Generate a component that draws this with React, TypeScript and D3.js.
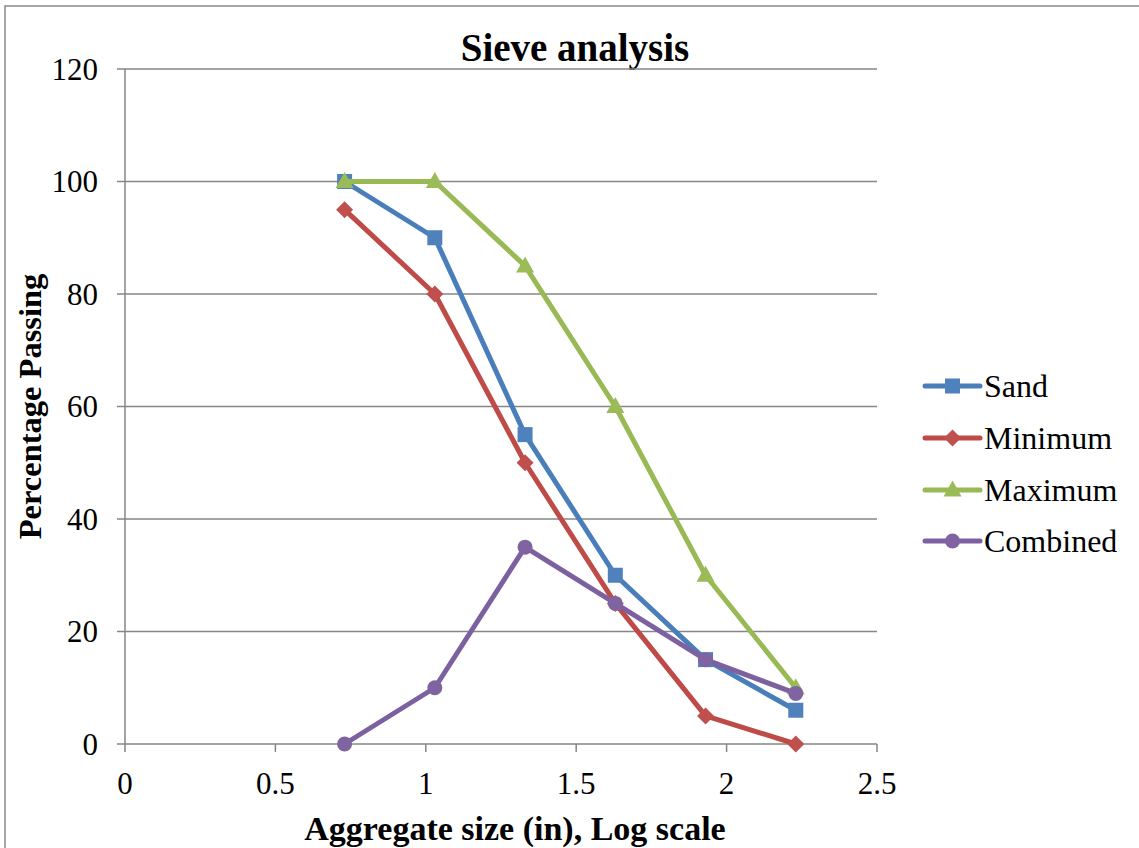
import React from "react";
import * as d3 from "d3";

const xValues = [0.73, 1.03, 1.33, 1.63, 1.93, 2.23];
const sand = [100, 90, 55, 30, 15, 6];
const minimum = [95, 80, 50, 25, 5, 0];
const maximum = [100, 100, 85, 60, 30, 10];
const combined = [0, 10, 35, 25, 15, 9];
const xTicks = [0, 0.5, 1, 1.5, 2, 2.5];
const yTicks = [0, 20, 40, 60, 80, 100, 120];

const seriesList = [
  { name: "Sand", values: sand, color: "#4A7EBB", fill: "#4F81BD", shape: "square" },
  { name: "Minimum", values: minimum, color: "#BE4B48", fill: "#C0504D", shape: "diamond" },
  { name: "Maximum", values: maximum, color: "#98B954", fill: "#9BBB59", shape: "triangle" },
  { name: "Combined", values: combined, color: "#7D60A0", fill: "#8064A2", shape: "circle" },
];

const W = 1139;
const H = 848;
const left = 125, right = 877, top = 69, bottom = 744;
const FONT = "'Liberation Serif', 'Times New Roman', serif";

function Marker({ shape, x, y, fill }: { shape: string; x: number; y: number; fill: string }) {
  if (shape === "square") return <rect x={x - 7.5} y={y - 7.5} width={15} height={15} fill={fill} />;
  if (shape === "diamond") return <path d={`M${x},${y - 8.5}L${x + 8.5},${y}L${x},${y + 8.5}L${x - 8.5},${y}Z`} fill={fill} />;
  if (shape === "triangle") return <path d={`M${x},${y - 9.5}L${x + 9},${y + 6.5}L${x - 9},${y + 6.5}Z`} fill={fill} />;
  return <circle cx={x} cy={y} r={7.5} fill={fill} />;
}

export default function App() {
  const x = d3.scaleLinear().domain([0, 2.5]).range([left, right]);
  const y = d3.scaleLinear().domain([0, 120]).range([bottom, top]);
  const line = d3.line<[number, number]>().x((d) => x(d[0])).y((d) => y(d[1]));
  const grid = "#868686";
  const legendX = 925;
  const legendY = [386, 438, 490, 541];

  return (
    <svg width={W} height={H} style={{ position: "absolute", left: 0, top: 0 }}>
      <rect x={0} y={0} width={W} height={H} fill="#fff" />
      <rect x={5} y={6} width={W + 20} height={H + 20} fill="none" stroke="#898989" strokeWidth={1.5} />
      <text x={575} y={61} textAnchor="middle" fontFamily={FONT} fontWeight="bold" fontSize={39}>Sieve analysis</text>
      {yTicks.map((t) => (
        <g key={"y" + t}>
          <line x1={117} x2={right} y1={y(t)} y2={y(t)} stroke={grid} strokeWidth={1.5} />
          <text x={98} y={y(t) + 10.5} textAnchor="end" fontFamily={FONT} fontSize={31}>{t}</text>
        </g>
      ))}
      <line x1={left} x2={left} y1={top} y2={bottom} stroke={grid} strokeWidth={1.5} />
      {xTicks.map((t) => (
        <g key={"x" + t}>
          <line x1={x(t)} x2={x(t)} y1={bottom} y2={bottom + 8} stroke={grid} strokeWidth={1.5} />
          <text x={x(t)} y={794} textAnchor="middle" fontFamily={FONT} fontSize={31}>{t}</text>
        </g>
      ))}
      <text x={515} y={840} textAnchor="middle" fontFamily={FONT} fontWeight="bold" fontSize={34}>Aggregate size (in), Log scale</text>
      <text transform={`translate(41,${(275 + 538) / 2}) rotate(-90)`} textAnchor="middle" fontFamily={FONT} fontWeight="bold" fontSize={32.5}>Percentage Passing</text>
      {seriesList.map((s) => {
        const pts: [number, number][] = xValues.map((xv, i) => [xv, s.values[i]]);
        return (
          <g key={s.name}>
            <path d={line(pts) || ""} fill="none" stroke={s.color} strokeWidth={5} strokeLinejoin="round" strokeLinecap="round" />
            {pts.map((p, i) => (
              <Marker key={i} shape={s.shape} x={x(p[0])} y={y(p[1])} fill={s.fill} />
            ))}
          </g>
        );
      })}
      {seriesList.map((s, i) => (
        <g key={"lg" + s.name}>
          <line x1={legendX} x2={legendX + 55} y1={legendY[i]} y2={legendY[i]} stroke={s.color} strokeWidth={5} strokeLinecap="round" />
          <Marker shape={s.shape} x={legendX + 27.5} y={legendY[i]} fill={s.fill} />
          <text x={984} y={legendY[i] + 11} fontFamily={FONT} fontSize={32}>{s.name}</text>
        </g>
      ))}
    </svg>
  );
}
